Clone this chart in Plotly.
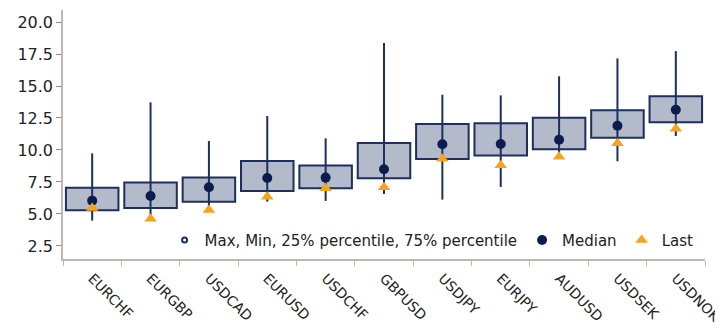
import plotly.graph_objects as go

categories = ["EURCHF", "EURGBP", "USDCAD", "EURUSD", "USDCHF", "GBPUSD",
              "USDJPY", "EURJPY", "AUDUSD", "USDSEK", "USDNOK"]
max_vals = [9.74, 13.72, 10.70, 12.66, 10.91, 18.36, 14.32, 14.27, 15.76, 17.16, 17.73]
min_vals = [4.48, 4.60, 5.30, 5.96, 6.02, 6.56, 6.12, 7.11, 9.45, 9.12, 11.09]
p25_vals = [5.29, 5.47, 5.96, 6.80, 7.00, 7.79, 9.30, 9.56, 10.05, 10.96, 12.16]
p75_vals = [7.05, 7.45, 7.84, 9.14, 8.78, 10.55, 12.03, 12.08, 12.52, 13.10, 14.20]
median_vals = [6.04, 6.41, 7.09, 7.81, 7.84, 8.49, 10.45, 10.47, 10.80, 11.90, 13.15]
last_vals = [5.47, 4.63, 5.31, 6.35, 7.00, 7.09, 9.32, 8.80, 9.48, 10.52, 11.66]

NAVY = "#1c2f5f"
DOT = "#0b1c4d"
FILL = "#b3bbcb"
ORANGE = "#f9a31a"
AXIS = "#bdb7ad"
FONT = "DejaVu Sans"

wx, wy = [], []
for c, lo, hi in zip(categories, min_vals, max_vals):
    wx += [c, c, None]
    wy += [lo, hi, None]

fig = go.Figure()
fig.add_trace(go.Scatter(x=wx, y=wy, mode="lines", line=dict(color=NAVY, width=2),
                         showlegend=False, hoverinfo="skip"))
fig.add_trace(go.Bar(x=categories, y=[h - l for h, l in zip(p75_vals, p25_vals)],
                     base=p25_vals, width=0.9,
                     marker=dict(color=FILL, line=dict(color=NAVY, width=2)),
                     showlegend=False))
fig.add_trace(go.Scatter(x=[None], y=[None], mode="markers",
                         name="Max, Min, 25% percentile, 75% percentile",
                         marker=dict(symbol="circle-open", size=5, color=NAVY,
                                     line=dict(width=2, color=NAVY))))
fig.add_trace(go.Scatter(x=categories, y=median_vals, mode="markers", name="Median",
                         marker=dict(symbol="circle", size=10, color=DOT)))
fig.add_trace(go.Scatter(x=categories, y=last_vals, mode="markers", name="Last",
                         marker=dict(symbol="triangle-up", size=11, color=ORANGE)))

fig.update_layout(
    width=715, height=327,
    margin=dict(l=55, r=18, t=2, b=76),
    paper_bgcolor="white", plot_bgcolor="white",
    font=dict(family=FONT, size=15, color="#222222"),
    barmode="overlay",
    legend=dict(orientation="h", x=0.99, xanchor="right", y=0.075, yanchor="middle",
                bgcolor="rgba(0,0,0,0)", font=dict(size=15), itemwidth=30,
                tracegroupgap=0),
)
fig.update_xaxes(type="category", showline=True, linecolor=AXIS, linewidth=1.5,
                 ticks="outside", tickson="boundaries", ticklen=5, tickcolor=AXIS,
                 tickangle=45, showgrid=False, tickfont=dict(size=14),
                 ticklabelstandoff=4,
                 range=[-0.5, 10.5], automargin=False)
fig.update_yaxes(range=[1.48, 20.94], dtick=2.5, tick0=0, tickformat=".1f",
                 showline=True, linecolor=AXIS, linewidth=1.5,
                 ticks="outside", ticklen=5, tickcolor="#888888",
                 showgrid=False, zeroline=False, tickfont=dict(size=16),
                 automargin=False)

fig.write_html("out.html")
